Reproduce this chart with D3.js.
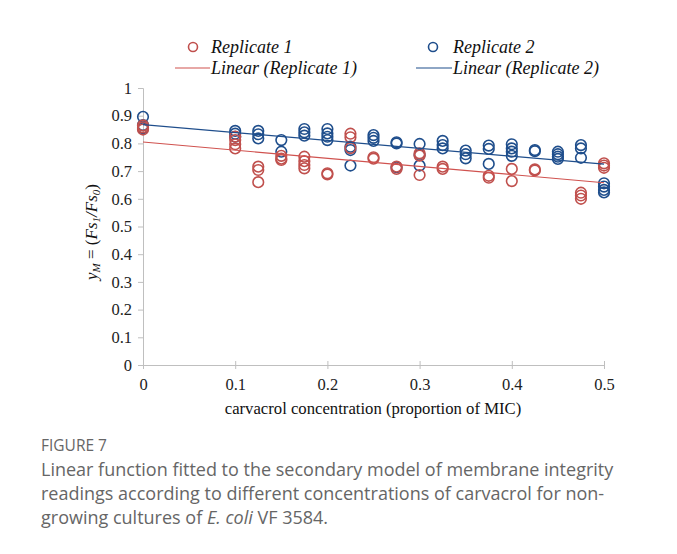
<!DOCTYPE html>
<html>
<head>
<meta charset="utf-8">
<script src="https://cdn.jsdelivr.net/npm/d3@7"></script>
<style>
  html, body { margin: 0; padding: 0; background: #fff; }
  .tick text { font-family: "Liberation Serif", "DejaVu Serif", serif; font-size: 16.5px; fill: #222; }
  .serif { font-family: "Liberation Serif", "DejaVu Serif", serif; fill: #111; }
  .caption { font-family: "Open Sans", "Noto Sans", sans-serif; fill: #666; }
</style>
</head>
<body>
<div id="viz"></div>
<script>
const W = 677, H = 554;

// concentrations (proportion of MIC) and readings for each replicate
const rep1Conc = [0,0,0, 0.1,0.1,0.1,0.1, 0.125,0.125,0.125, 0.15,0.15,0.15,
  0.175,0.175,0.175,0.175, 0.2,0.2, 0.225,0.225,0.225, 0.25,0.25, 0.275,0.275,
  0.3,0.3,0.3, 0.325,0.325, 0.375,0.375, 0.4,0.4, 0.425,0.425,
  0.475,0.475,0.475, 0.5,0.5,0.5];
const rep1Vals = [0.865,0.858,0.85, 0.825,0.812,0.797,0.782, 0.716,0.704,0.66, 0.755,0.745,0.74,
  0.752,0.736,0.722,0.71, 0.692,0.688, 0.835,0.822,0.783, 0.75,0.745, 0.716,0.708,
  0.764,0.756,0.686, 0.716,0.708, 0.683,0.676, 0.708,0.664, 0.706,0.702,
  0.622,0.612,0.6, 0.728,0.72,0.712];

const rep2Conc = [0,0,0, 0.1,0.1,0.1, 0.125,0.125,0.125, 0.15,0.15,
  0.175,0.175,0.175, 0.2,0.2,0.2,0.2, 0.225,0.225,0.225, 0.25,0.25,0.25,
  0.275,0.275,0.275, 0.3,0.3,0.3, 0.325,0.325,0.325, 0.35,0.35,0.35,
  0.375,0.375,0.375, 0.4,0.4,0.4,0.4, 0.425,0.425, 0.45,0.45,0.45,0.45,
  0.475,0.475,0.475, 0.5,0.5,0.5,0.5];
const rep2Vals = [0.896,0.866,0.855, 0.845,0.835,0.824, 0.845,0.833,0.818, 0.812,0.77,
  0.852,0.84,0.828, 0.852,0.836,0.824,0.812, 0.788,0.776,0.72, 0.83,0.82,0.809,
  0.804,0.8,0.714, 0.798,0.758,0.72, 0.809,0.794,0.782, 0.774,0.761,0.746,
  0.792,0.78,0.726, 0.797,0.782,0.77,0.755, 0.776,0.772, 0.77,0.761,0.752,0.744,
  0.794,0.782,0.748, 0.656,0.644,0.632,0.623];

// fitted trend lines, read at x = 0 and x = 0.5
const trendX = [0, 0.5];
const trend1 = [0.805, 0.658];
const trend2 = [0.868, 0.725];

const xTicks = [0, 0.1, 0.2, 0.3, 0.4, 0.5];
const yTicks = [0, 0.1, 0.2, 0.3, 0.4, 0.5, 0.6, 0.7, 0.8, 0.9, 1];

const captionLines = [
  'Linear function fitted to the secondary model of membrane integrity',
  'readings according to different concentrations of carvacrol for non-'
];

const RED = '#c0504d', BLUE = '#1f4e8c';
const AXIS = '#bfbfbf';

const svg = d3.select('#viz').append('svg')
  .attr('width', W).attr('height', H);

const x = d3.scaleLinear().domain([0, 0.5]).range([143, 604]);
const y = d3.scaleLinear().domain([0, 1]).range([365, 88]);

// y axis
const yAxis = svg.append('g')
  .attr('transform', 'translate(' + x(0) + ',0)')
  .call(d3.axisLeft(y).tickValues(yTicks).tickSize(5).tickPadding(6)
    .tickFormat(d => d === 0 || d === 1 ? String(d) : d3.format('.1f')(d)));
yAxis.selectAll('line, path').attr('stroke', AXIS);

// x axis, ticks cross the line
const xAxis = svg.append('g')
  .attr('transform', 'translate(0,' + y(0) + ')')
  .call(d3.axisBottom(x).tickValues(xTicks).tickSizeInner(4).tickSizeOuter(0).tickPadding(9)
    .tickFormat(d => d === 0 ? '0' : d3.format('.1f')(d)));
xAxis.select('.domain').attr('stroke', AXIS);
xAxis.selectAll('.tick line').attr('stroke', AXIS).attr('y1', -4).attr('y2', 4);

// points
function drawPoints(conc, vals, color) {
  svg.append('g').selectAll('circle')
    .data(conc.map((c, i) => [c, vals[i]]))
    .join('circle')
    .attr('cx', d => x(d[0]))
    .attr('cy', d => y(d[1]))
    .attr('r', 5.3)
    .attr('fill', 'none')
    .attr('stroke', color)
    .attr('stroke-width', 1.6);
}
drawPoints(rep2Conc, rep2Vals, BLUE);
drawPoints(rep1Conc, rep1Vals, RED);

// trend lines
const line = d3.line().x(d => x(d[0])).y(d => y(d[1]));
svg.append('path').datum(trendX.map((c, i) => [c, trend1[i]]))
  .attr('d', line).attr('fill', 'none').attr('stroke', '#d0524f').attr('stroke-width', 1.2);
svg.append('path').datum(trendX.map((c, i) => [c, trend2[i]]))
  .attr('d', line).attr('fill', 'none').attr('stroke', '#1f4e8c').attr('stroke-width', 1.2);

// legend
const legend = [
  { label: 'Replicate 1', type: 'dot', color: RED, lx: 193, tx: 211, ty: 53 },
  { label: 'Linear (Replicate 1)', type: 'line', color: '#d0524f', lx: 175, tx: 211, ty: 74 },
  { label: 'Replicate 2', type: 'dot', color: BLUE, lx: 433, tx: 453, ty: 53 },
  { label: 'Linear (Replicate 2)', type: 'line', color: BLUE, lx: 416, tx: 453, ty: 74 }
];
legend.forEach(l => {
  if (l.type === 'dot') {
    svg.append('circle').attr('cx', l.lx).attr('cy', l.ty - 6).attr('r', 4.5)
      .attr('fill', 'none').attr('stroke', l.color).attr('stroke-width', 1.6);
  } else {
    svg.append('line').attr('x1', l.lx).attr('x2', l.tx - 1)
      .attr('y1', l.ty - 6).attr('y2', l.ty - 6)
      .attr('stroke', l.color).attr('stroke-width', 1.2);
  }
  svg.append('text').attr('class', 'serif').attr('x', l.tx).attr('y', l.ty)
    .attr('font-size', 18).attr('font-style', 'italic').text(l.label);
});

// axis titles
svg.append('text').attr('class', 'serif')
  .attr('x', 373).attr('y', 414).attr('text-anchor', 'middle')
  .attr('font-size', 16.7).text('carvacrol concentration (proportion of MIC)');

const yt = svg.append('text').attr('class', 'serif')
  .attr('transform', 'translate(97,232) rotate(-90)')
  .attr('text-anchor', 'middle').attr('font-size', 17).attr('font-style', 'italic');
yt.append('tspan').text('y');
yt.append('tspan').attr('font-size', 11).attr('dy', 3).text('M');
yt.append('tspan').attr('dy', -3).attr('font-style', 'normal').text(' = (');
yt.append('tspan').text('Fs');
yt.append('tspan').attr('font-size', 11).attr('dy', 3).text('1');
yt.append('tspan').attr('dy', -3).text('/Fs');
yt.append('tspan').attr('font-size', 11).attr('dy', 3).text('0');
yt.append('tspan').attr('dy', -3).attr('font-style', 'normal').text(')');

// caption
svg.append('text').attr('class', 'caption')
  .attr('x', 41).attr('y', 451).attr('font-size', 15.5).text('FIGURE 7');
captionLines.forEach((t, i) => {
  svg.append('text').attr('class', 'caption')
    .attr('x', 41).attr('y', 476 + i * 24).attr('font-size', 18).text(t);
});
const last = svg.append('text').attr('class', 'caption')
  .attr('x', 41).attr('y', 524).attr('font-size', 18);
last.append('tspan').text('growing cultures of ');
last.append('tspan').attr('font-style', 'italic').text('E. coli');
last.append('tspan').text(' VF 3584.');
</script>
</body>
</html>
